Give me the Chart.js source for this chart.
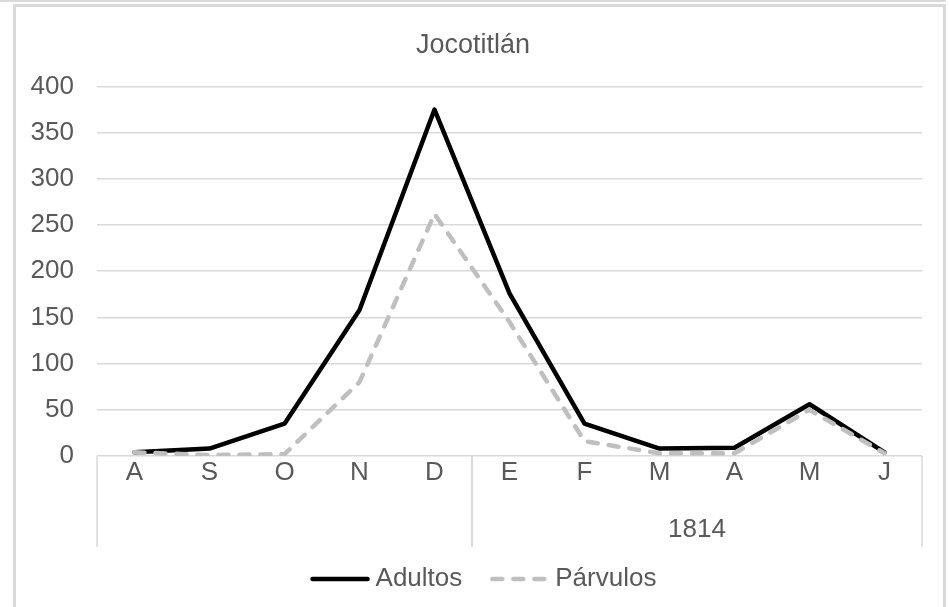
<!DOCTYPE html>
<html>
<head>
<meta charset="utf-8">
<script src="https://cdn.jsdelivr.net/npm/chart.js@4.4.1/dist/chart.umd.min.js"></script>
<style>
  html, body { margin: 0; padding: 0; background: #ffffff; }
  #wrap { position: relative; width: 949px; height: 607px; overflow: hidden; }
  #topline { position: absolute; left: 0; top: 0; width: 946px; height: 2px; background: #d9d9d9; }
  #frame { position: absolute; left: 13px; top: 4px; width: 933px; height: 700px;
           border: 3px solid #d9d9d9; box-sizing: border-box; }
  canvas { position: absolute; left: 0; top: 0; }
</style>
</head>
<body>
<div id="wrap">
  <div id="topline"></div>
  <div id="frame"></div>
  <canvas id="chart" width="949" height="607"></canvas>
</div>
<script>
// Monthly burials, Aug 1813 – Jun 1814
const months = ['A', 'S', 'O', 'N', 'D', 'E', 'F', 'M', 'A', 'M', 'J'];
const adultos = [4, 8, 35, 158, 375, 176, 35, 8, 9, 56, 4];
const parvulos = [4, 1, 2, 80, 262, 145, 16, 3, 3, 50, 3];

// Second-level category row: year label and how many months it spans
const yearLabels = ['', '1814'];
const yearSpans = [5, 6];

const TEXT = '#595959';
const GRID = '#d9d9d9';
const FONT = 'Liberation Sans, Arial, sans-serif';
const LINE_W = 4.5;

// Legend swatches: a short line in each series' own stroke style
function makeSwatch(color, dash) {
  const c = document.createElement('canvas');
  c.width = 60;
  c.height = 10;
  const g = c.getContext('2d');
  g.strokeStyle = color;
  g.lineWidth = LINE_W;
  g.lineCap = 'round';
  g.setLineDash(dash);
  g.beginPath();
  g.moveTo(2.5, 5);
  g.lineTo(57.5, 5);
  g.stroke();
  return c;
}
const swatches = [makeSwatch('#000000', []), makeSwatch('#bfbfbf', [10, 11])];

// Draws the year row under the month labels, with its separators
const yearRow = {
  id: 'yearRow',
  afterDraw(chart) {
    const { ctx, chartArea, scales } = chart;
    const x = scales.x;
    const half = (x.getPixelForValue(1) - x.getPixelForValue(0)) / 2;
    const top = chartArea.bottom;
    const bottom = top + 91;
    ctx.save();
    ctx.strokeStyle = GRID;
    ctx.lineWidth = 1.5;
    ctx.fillStyle = TEXT;
    ctx.font = '26px ' + FONT;
    ctx.textAlign = 'center';
    ctx.textBaseline = 'middle';
    let start = 0;
    yearSpans.forEach((n, i) => {
      const left = x.getPixelForValue(start) - half;
      const right = x.getPixelForValue(start + n - 1) + half;
      [left, right].forEach(px => {
        ctx.beginPath();
        ctx.moveTo(px, top);
        ctx.lineTo(px, bottom);
        ctx.stroke();
      });
      if (yearLabels[i]) ctx.fillText(yearLabels[i], (left + right) / 2, top + 74);
      start += n;
    });
    ctx.restore();
  }
};

// Nudges the legend row to the right of the title's centre line
const legendShift = {
  id: 'legendShift',
  afterLayout(chart) {
    chart.legend.left += 14;
    chart.legend.right += 14;
  }
};

new Chart(document.getElementById('chart'), {
  type: 'line',
  data: {
    labels: months,
    datasets: [
      {
        label: 'Adultos',
        data: adultos,
        borderColor: '#000000',
        backgroundColor: '#000000',
        borderWidth: LINE_W,
        pointRadius: 0,
        tension: 0,
        borderJoinStyle: 'round',
        borderCapStyle: 'round',
        order: 1
      },
      {
        label: 'Párvulos',
        data: parvulos,
        borderColor: '#bfbfbf',
        backgroundColor: '#bfbfbf',
        borderWidth: LINE_W,
        borderDash: [10, 11],
        pointRadius: 0,
        tension: 0,
        borderJoinStyle: 'round',
        borderCapStyle: 'round',
        order: 0
      }
    ]
  },
  options: {
    responsive: false,
    animation: false,
    devicePixelRatio: 1,
    layout: { padding: { left: 24, right: 27, top: 0, bottom: 5 } },
    scales: {
      x: {
        offset: true,
        grid: { display: false },
        border: { display: false },
        ticks: { color: TEXT, font: { family: FONT, size: 26 }, padding: -7, maxRotation: 0, autoSkip: false },
        afterFit(scale) { scale.height = 75; }
      },
      y: {
        min: 0,
        max: 400,
        ticks: { stepSize: 50, color: TEXT, font: { family: FONT, size: 26 }, padding: 23 },
        grid: { color: GRID, lineWidth: 1.5, drawTicks: false },
        border: { display: false },
        afterFit(scale) { scale.width = 73; }
      }
    },
    plugins: {
      title: {
        display: true,
        text: 'Jocotitlán',
        color: TEXT,
        font: { family: FONT, size: 27, weight: 'normal' },
        padding: { top: 29, bottom: 25 }
      },
      legend: {
        position: 'bottom',
        labels: {
          usePointStyle: true,
          pointStyleWidth: 45,
          color: TEXT,
          font: { family: FONT, size: 26 },
          padding: 35,
          sort: (a, b) => a.datasetIndex - b.datasetIndex,
          generateLabels(chart) {
            const items = Chart.defaults.plugins.legend.labels.generateLabels(chart);
            items.forEach(it => { it.pointStyle = swatches[it.datasetIndex]; });
            return items;
          }
        }
      },
      tooltip: { enabled: false }
    }
  },
  plugins: [yearRow, legendShift]
});
</script>
</body>
</html>
